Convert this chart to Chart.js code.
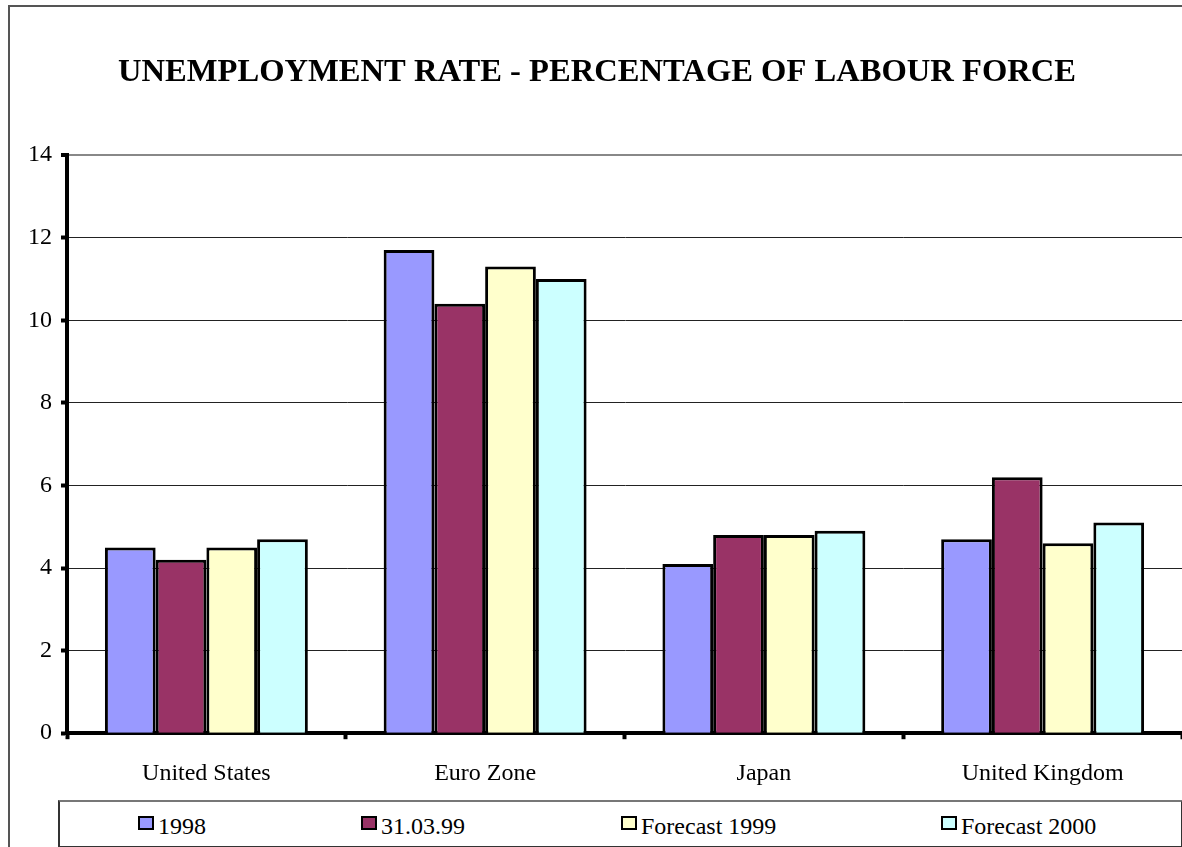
<!DOCTYPE html>
<html>
<head>
<meta charset="utf-8">
<script src="https://cdn.jsdelivr.net/npm/chart.js@4/dist/chart.umd.min.js"></script>
<style>
    html, body { margin: 0; padding: 0; background: #fff; overflow: hidden; }
    #wrap { position: relative; width: 1182px; height: 847px; }
    #frame {
        position: absolute; left: 8px; top: 5px; width: 1250px; height: 900px;
        border-left: 2px solid #555; border-top: 2px solid #555;
    }
    #chart { position: absolute; left: 0; top: 0; }
    #legend {
        position: absolute; left: 58px; top: 800px; width: 1121px; height: 44px;
        border: 2px solid #333; border-top-color: #777; background: #fff;
        font-family: 'Liberation Serif', 'Times New Roman', serif; font-size: 24px; color: #000;
    }
    .item { position: absolute; top: 11px; display: flex; align-items: flex-start; white-space: nowrap; }
    .box { width: 12px; height: 10px; border: 2px solid #000; margin-top: 3px; margin-right: 4px; }
</style>
</head>
<body>
<div id="wrap">
    <div id="frame"></div>
    <canvas id="chart" width="1182" height="847"></canvas>
    <div id="legend"></div>
</div>
<script>
// ---- data ----
const categories = ['United States', 'Euro Zone', 'Japan', 'United Kingdom'];
const seriesNames = ['1998', '31.03.99', 'Forecast 1999', 'Forecast 2000'];
const values1998 = [4.5, 11.7, 4.1, 4.7];
const valuesMar99 = [4.2, 10.4, 4.8, 6.2];
const valuesForecast1999 = [4.5, 11.3, 4.8, 4.6];
const valuesForecast2000 = [4.7, 11.0, 4.9, 5.1];
const yMin = 0;
const yMax = 14;
const yStep = 2;

// ---- styling ----
const seriesColors = ['#9999FF', '#993366', '#FFFFCC', '#CCFFFF'];
const legendLefts = [78, 301, 561, 881];   // relative to legend box
const serif = "'Liberation Serif', 'Times New Roman', serif";

const allValues = [values1998, valuesMar99, valuesForecast1999, valuesForecast2000];

const datasets = seriesNames.map((name, i) => ({
    label: name,
    data: allValues[i],
    backgroundColor: seriesColors[i],
    borderColor: '#000',
    borderWidth: 3,
    borderSkipped: 'start',
    categoryPercentage: 0.728,
    barPercentage: 1.0
}));

const chart = new Chart(document.getElementById('chart'), {
    type: 'bar',
    data: { labels: categories, datasets },
    options: {
        responsive: false,
        animation: false,
        layout: { padding: { left: 12, right: 0, top: 0, bottom: 39 } },
        plugins: {
            legend: { display: false },
            tooltip: { enabled: false },
            title: {
                display: true,
                text: 'UNEMPLOYMENT RATE - PERCENTAGE OF LABOUR FORCE',
                color: '#000',
                font: { family: serif, size: 32.6, weight: 'bold' },
                padding: { top: 53, bottom: 63 }
            }
        },
        scales: {
            x: {
                grid: {
                    drawOnChartArea: false,
                    tickLength: 6,
                    tickWidth: 4,
                    tickColor: '#000'
                },
                border: { display: true, color: '#000', width: 4 },
                ticks: {
                    color: '#000',
                    font: { family: serif, size: 24 },
                    padding: 20
                }
            },
            y: {
                min: yMin,
                max: yMax,
                afterFit: (scale) => { scale.width = 55; },
                grid: {
                    color: (ctx) => ctx.tick && ctx.tick.value === yMax ? '#888' : '#222',
                    lineWidth: (ctx) => ctx.tick && ctx.tick.value === yMax ? 2 : 1,
                    tickLength: 6,
                    tickWidth: 4,
                    tickColor: '#000'
                },
                border: { display: true, color: '#000', width: 4 },
                ticks: {
                    stepSize: yStep,
                    color: '#000',
                    font: { family: serif, size: 24 },
                    padding: 9
                }
            }
        }
    }
});

// HTML legend built from the chart's datasets
const legendEl = document.getElementById('legend');
chart.data.datasets.forEach((ds, i) => {
    const item = document.createElement('div');
    item.className = 'item';
    item.style.left = legendLefts[i] + 'px';
    const box = document.createElement('span');
    box.className = 'box';
    box.style.background = ds.backgroundColor;
    const txt = document.createElement('span');
    txt.textContent = ds.label;
    item.appendChild(box);
    item.appendChild(txt);
    legendEl.appendChild(item);
});
</script>
</body>
</html>
